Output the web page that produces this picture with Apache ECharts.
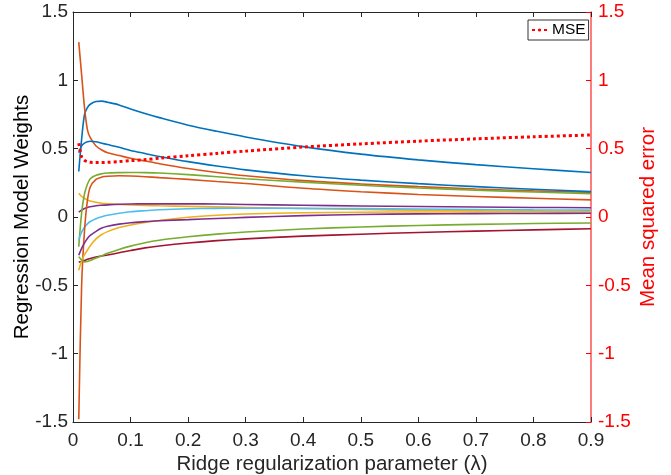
<!DOCTYPE html>
<html>
<head>
<meta charset="utf-8">
<script src="https://cdn.jsdelivr.net/npm/echarts@6/dist/echarts.min.js"></script>
<style>
  html, body { margin: 0; padding: 0; background: #fff; }
  #main { width: 671px; height: 475px; }
</style>
</head>
<body>
<div id="main"></div>
<script>
// ridge parameter values (x)
const lambda = [0.01, 0.015, 0.02, 0.025, 0.03, 0.04, 0.05, 0.06, 0.08, 0.1, 0.125, 0.15, 0.2, 0.25, 0.3, 0.4, 0.5, 0.6, 0.7, 0.8, 0.9];

// regression weights, one array per coefficient
const blueA   = [0.333, 0.57, 0.75, 0.80, 0.825, 0.845, 0.848, 0.84, 0.82, 0.79, 0.757, 0.727, 0.672, 0.627, 0.586, 0.515, 0.46, 0.418, 0.383, 0.353, 0.326];
const blueB   = [0.47, 0.52, 0.54, 0.55, 0.554, 0.55, 0.54, 0.53, 0.51, 0.487, 0.465, 0.443, 0.405, 0.373, 0.345, 0.302, 0.27, 0.244, 0.222, 0.203, 0.186];
const orangeA = [1.28, 1.04, 0.80, 0.64, 0.58, 0.52, 0.49, 0.47, 0.45, 0.43, 0.41, 0.39, 0.355, 0.326, 0.302, 0.266, 0.242, 0.222, 0.205, 0.191, 0.18];
const orangeB = [-1.48, -0.5, -0.1, 0.12, 0.22, 0.275, 0.292, 0.298, 0.302, 0.30, 0.295, 0.288, 0.275, 0.26, 0.245, 0.21, 0.185, 0.165, 0.15, 0.137, 0.125];
const yellowA = [0.174, 0.15, 0.135, 0.125, 0.117, 0.108, 0.10, 0.097, 0.092, 0.088, 0.085, 0.082, 0.078, 0.074, 0.07, 0.062, 0.055, 0.05, 0.046, 0.043, 0.04];
const yellowB = [-0.39, -0.32, -0.275, -0.243, -0.21, -0.16, -0.128, -0.107, -0.077, -0.058, -0.04, -0.026, -0.002, 0.013, 0.022, 0.031, 0.035, 0.037, 0.037, 0.037, 0.037];
const purpleA = [0.035, 0.05, 0.062, 0.07, 0.075, 0.082, 0.086, 0.089, 0.093, 0.095, 0.096, 0.096, 0.096, 0.095, 0.092, 0.086, 0.081, 0.077, 0.073, 0.07, 0.068];
const purpleB = [-0.28, -0.23, -0.19, -0.157, -0.135, -0.105, -0.081, -0.068, -0.052, -0.042, -0.034, -0.027, -0.019, -0.011, -0.003, 0.01, 0.018, 0.023, 0.025, 0.026, 0.027];
const greenA  = [-0.218, 0.03, 0.17, 0.24, 0.28, 0.305, 0.316, 0.322, 0.325, 0.326, 0.325, 0.322, 0.31, 0.295, 0.28, 0.255, 0.232, 0.212, 0.196, 0.183, 0.171];
const greenB  = [-0.29, -0.315, -0.328, -0.325, -0.318, -0.30, -0.283, -0.266, -0.237, -0.213, -0.188, -0.17, -0.145, -0.125, -0.11, -0.088, -0.073, -0.062, -0.054, -0.048, -0.044];
const lightBlue = [-0.164, -0.11, -0.075, -0.05, -0.033, -0.012, 0.002, 0.013, 0.028, 0.038, 0.046, 0.053, 0.06, 0.063, 0.064, 0.063, 0.061, 0.058, 0.055, 0.052, 0.05];
const darkRed = [-0.33, -0.325, -0.318, -0.31, -0.303, -0.293, -0.285, -0.278, -0.262, -0.245, -0.226, -0.212, -0.19, -0.173, -0.16, -0.14, -0.126, -0.113, -0.103, -0.094, -0.086];

// mean squared error (right axis)
const mse = [0.54, 0.44, 0.415, 0.405, 0.40, 0.398, 0.398, 0.40, 0.405, 0.412, 0.42, 0.43, 0.448, 0.465, 0.482, 0.512, 0.535, 0.555, 0.572, 0.587, 0.60];

const FONT = "'Liberation Sans', Arial, Helvetica, sans-serif";

function pairs(vals) {
    return lambda.map(function (x, i) { return [x, vals[i]]; });
}

function weightLine(vals, color) {
    return {
        type: 'line',
        yAxisIndex: 0,
        data: pairs(vals),
        symbol: 'none',
        smooth: 0.3,
        lineStyle: {color: color, width: 1.6},
        itemStyle: {color: color},
        z: 2
    };
}

const chart = echarts.init(document.getElementById('main'));

const option = {
    animation: false,
    backgroundColor: '#fff',
    textStyle: {fontFamily: FONT},
    grid: {left: 73, right: 80, top: 12, bottom: 53, containLabel: false, outerBoundsMode: 'none'},
    legend: {
        data: ['MSE'],
        left: 528,
        top: 20,
        orient: 'vertical',
        padding: [2, 3, 2, 3],
        itemWidth: 15,
        itemHeight: 4,
        itemGap: 0,
        borderColor: '#333',
        borderWidth: 1,
        backgroundColor: '#fff',
        textStyle: {fontSize: 15.5, color: '#000', fontFamily: FONT}
    },
    xAxis: [
        {
            type: 'value',
            position: 'bottom',
            min: 0,
            max: 0.9,
            interval: 0.1,
            name: 'Ridge regularization parameter (\u03bb)',
            nameLocation: 'middle',
            nameGap: 32,
            nameMoveOverlap: false,
            nameTextStyle: {fontSize: 20.5, color: '#262626', fontFamily: FONT},
            axisLine: {onZero: false, lineStyle: {color: '#262626', width: 1}},
            axisTick: {inside: true, length: 5, lineStyle: {color: '#262626'}},
            axisLabel: {fontSize: 19, color: '#262626', margin: 9},
            splitLine: {show: false}
        },
        {
            type: 'value',
            position: 'top',
            min: 0,
            max: 0.9,
            interval: 0.1,
            axisLine: {onZero: false, lineStyle: {color: '#262626', width: 1}},
            axisTick: {inside: true, length: 5, lineStyle: {color: '#262626'}},
            axisLabel: {show: false},
            splitLine: {show: false}
        }
    ],
    yAxis: [
        {
            type: 'value',
            position: 'left',
            min: -1.5,
            max: 1.5,
            interval: 0.5,
            name: 'Regression Model Weights',
            nameLocation: 'middle',
            nameRotate: 90,
            nameGap: 40,
            nameMoveOverlap: false,
            nameTextStyle: {fontSize: 20.5, color: '#000', fontFamily: FONT},
            axisLine: {show: true, onZero: false, lineStyle: {color: '#262626', width: 1}},
            axisTick: {show: true, inside: true, length: 5, lineStyle: {color: '#262626'}},
            axisLabel: {fontSize: 19, color: '#262626', margin: 5},
            splitLine: {show: false}
        },
        {
            type: 'value',
            position: 'right',
            min: -1.5,
            max: 1.5,
            interval: 0.5,
            name: 'Mean squared error',
            nameLocation: 'middle',
            nameRotate: 90,
            nameGap: 47,
            nameMoveOverlap: false,
            nameTextStyle: {fontSize: 20.5, color: '#ff0000', fontFamily: FONT},
            axisLine: {show: true, onZero: false, lineStyle: {color: '#ff5050', width: 1.5}},
            axisTick: {show: true, inside: true, length: 5, lineStyle: {color: '#ff0000'}},
            axisLabel: {fontSize: 19, color: '#ff0000', margin: 7},
            splitLine: {show: false}
        }
    ],
    series: [
        weightLine(blueA, '#0072BD'),
        weightLine(orangeA, '#D95319'),
        weightLine(yellowA, '#EDB120'),
        weightLine(purpleA, '#7E2F8E'),
        weightLine(greenA, '#77AC30'),
        weightLine(lightBlue, '#4DBEEE'),
        weightLine(darkRed, '#A2142F'),
        weightLine(blueB, '#0072BD'),
        weightLine(orangeB, '#D95319'),
        weightLine(yellowB, '#EDB120'),
        weightLine(purpleB, '#7E2F8E'),
        weightLine(greenB, '#77AC30'),
        {
            name: 'MSE',
            type: 'line',
            yAxisIndex: 1,
            data: pairs(mse),
            symbol: 'none',
            smooth: 0.3,
            lineStyle: {color: '#ff0000', width: 3, type: [3, 3]},
            itemStyle: {color: '#ff0000'},
            z: 3
        }
    ]
};

chart.setOption(option);
</script>
</body>
</html>
